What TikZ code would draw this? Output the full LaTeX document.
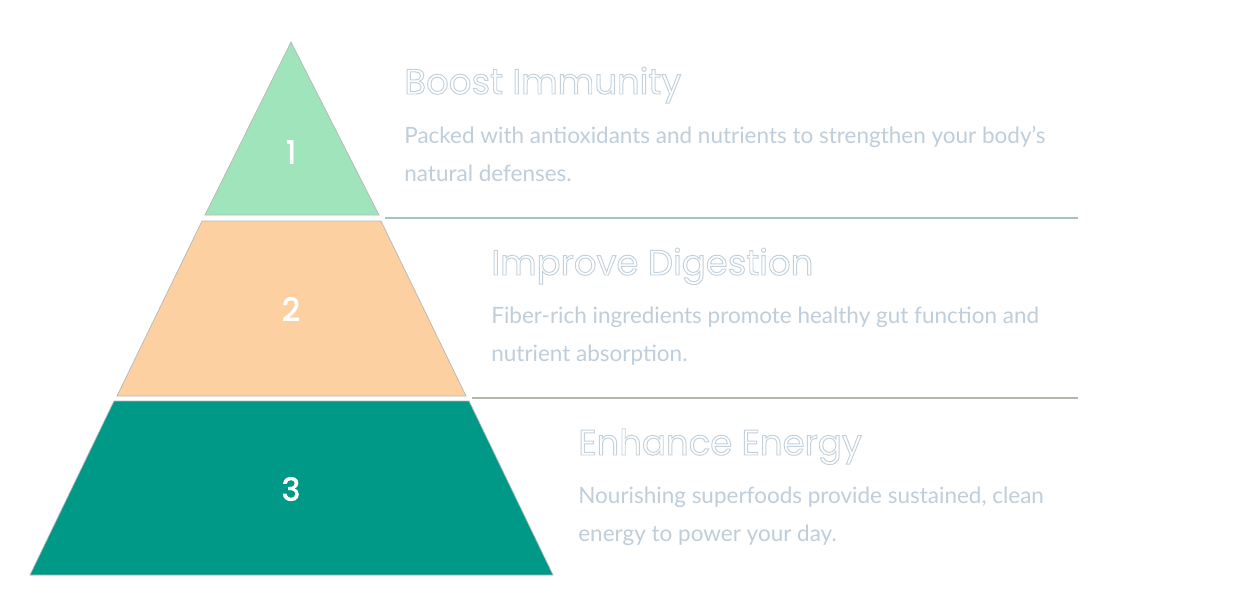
\documentclass[tikz,border=0pt]{standalone}
\usepackage{fontspec}
\setmainfont{Lato}
\newfontfamily\headfont{Poppins}
\usepackage{xcolor}
\usetikzlibrary{positioning}
\definecolor{mint}{HTML}{A0E4BC}
\definecolor{peach}{HTML}{FDD0A2}
\definecolor{teal}{HTML}{009886}
\definecolor{mist}{HTML}{BFCEDA}
\definecolor{edge}{HTML}{B4B8B8}
\definecolor{rulea}{HTML}{A8C0C0}
\definecolor{ruleb}{HTML}{B4B6AA}
% hollow letters: white fill, pale outline
\newcommand{\hollow}{\special{pdf:literal direct 2 Tr 0.55 w 0.76 0.82 0.86 RG}}
% slightly heavier white digits
\newcommand{\heavy}{\special{pdf:literal direct 2 Tr 0.45 w 1 1 1 RG}}
\tikzset{
  tier/.style={draw=edge,line width=.4pt},
  num/.style={text=white,font=\headfont\fontsize{18}{20}\selectfont},
  head/.style={anchor=base west,inner sep=0pt,text=white,
    font=\headfont\fontsize{20.2}{22}\selectfont},
  body/.style={anchor=base west,inner sep=0pt,text=mist,align=left,
    font=\fontsize{12.8}{21.5}\selectfont},
  divider/.style={line width=1.1pt}
}
\begin{document}
\begin{tikzpicture}[x=0.02cm,y=-0.02cm]
\useasboundingbox[fill=white] (0,0) rectangle (1247,602);

% pyramid
\filldraw[tier,fill=mint] (291,42) -- (379,215) -- (205,215) -- cycle;
\filldraw[tier,fill=peach] (202,221) -- (381,221) -- (466,396) -- (117,396) -- cycle;
\filldraw[tier,fill=teal] (114,401) -- (469,401) -- (553,575) -- (30,575) -- cycle;
\node[num] (n1) at (291,152) {\heavy 1};
\node[num] (n2) at (291,309) {\heavy 2};
\node[num] (n3) at (291,489) {\heavy 3};

% dividers
\coordinate (d1a) at (385,218);
\coordinate (d1b) at (1078,218);
\coordinate (d2a) at (472,398);
\coordinate (d2b) at (1078,398);
\draw[divider,rulea] (d1a) -- (d1b);
\draw[divider,ruleb] (d2a) -- (d2b);

% texts (body nodes sit on their last baseline)
\node[head] (h1) at (404,94) {\hollow Boost Immunity};
\node[body] (b1) at (404,181)
{Packed with antioxidants and nutrients to strengthen your body's\\natural defenses.};
\node[head] (h2) at (491,275) {\hollow Improve Digestion};
\node[body] (b2) at (491,361)
{Fiber-rich ingredients promote healthy gut function and\\nutrient absorption.};
\node[head] (h3) at (578,455) {\hollow Enhance Energy};
\node[body] (b3) at (578,541)
{Nourishing superfoods provide sustained, clean\\energy to power your day.};
\end{tikzpicture}
\end{document}
